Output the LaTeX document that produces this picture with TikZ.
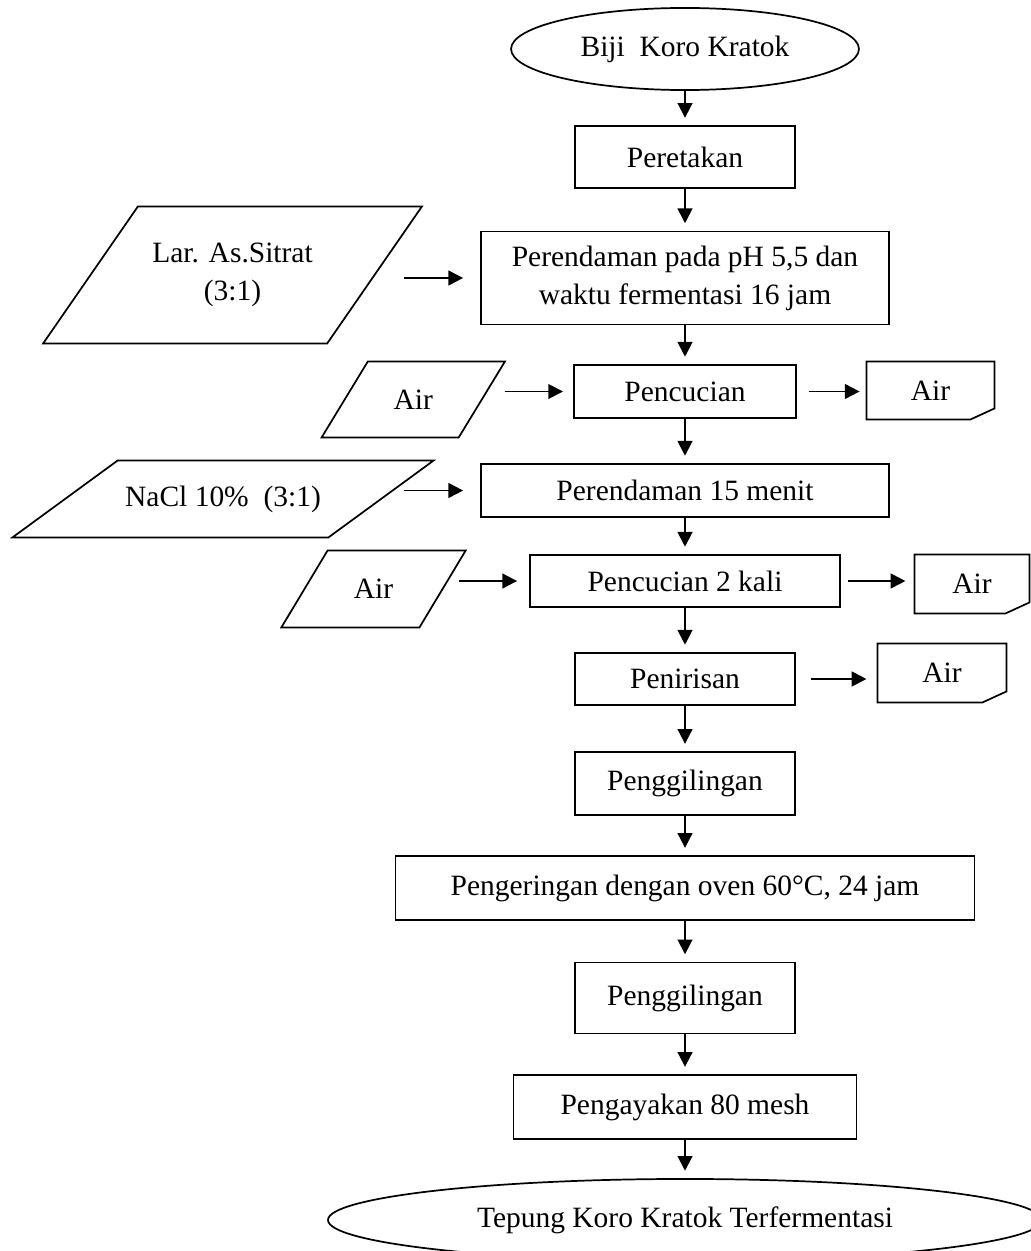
\documentclass[tikz,border=0pt,12pt]{standalone}
\usepackage{fontspec}
\setmainfont{Liberation Serif}
\usetikzlibrary{shapes.geometric,arrows.meta}
\tikzset{
  garis/.style={line width=.7pt},
  proses/.style={draw,garis,rectangle,inner sep=0pt,align=center},
  ujung/.style={draw,garis,ellipse,inner sep=0pt},
  bahan/.style={inner sep=0pt,align=center},
  limbah/.style={inner sep=0pt},
  uk/.style 2 args={minimum width=#1pt,minimum height=#2pt},
  panah/.style={line width=.8pt,-{Triangle[length=6pt,width=6pt]}}
}
% jajar genjang di sekeliling node (nama, setengah kemiringan)
\newcommand{\miring}[2]{\draw[garis] ([xshift=#2]#1.north west) -- ([xshift=#2]#1.north east)
  -- ([xshift=-#2]#1.south east) -- ([xshift=-#2]#1.south west) -- cycle;}
% kotak dengan sudut kanan bawah terpotong
\newcommand{\potong}[1]{\draw[garis] (#1.north west) -- (#1.north east) -- ([yshift=4.5pt]#1.south east)
  -- ([xshift=-9.8pt]#1.south east) -- (#1.south west) -- cycle;}
\begin{document}
\begin{tikzpicture}[x=.407pt,y=-.407pt]
\useasboundingbox (0,0) rectangle (1030,1251);
%alur utama
\node[ujung,uk={141.6}{33.4}] (biji) at (685,49) {Biji\ \ Koro Kratok};
\node[proses,uk={89.5}{25.2}] (retak) at (685,157) {Peretakan};
\node[proses,uk={166.1}{37.9}] (rendam1) at (685,278) {Perendaman pada pH 5,5 dan\\[1pt]waktu fermentasi 16 jam};
\node[proses,uk={90.4}{21.6}] (cuci1) at (685,391.5) {Pencucian};
\node[proses,uk={166.1}{21.6}] (rendam2) at (685,490.5) {Perendaman 15 menit};
\node[proses,uk={126.2}{21.2}] (cuci2) at (685,581) {Pencucian 2 kali};
\node[proses,uk={89.5}{21.2}] (tiris) at (685,679) {Penirisan};
\node[proses,uk={89.5}{25.6}] (giling1) at (685,783.5) {Penggilingan};
\node[proses,uk={235.7}{26}] (kering) at (685,888) {Pengeringan dengan oven 60°C, 24 jam};
\node[proses,uk={89.5}{28.9}] (giling2) at (685,998) {Penggilingan};
\node[proses,uk={139.6}{26}] (ayak) at (685,1107) {Pengayakan 80 mesh};
\node[ujung,uk={290.6}{33.4}] (tepung) at (685,1220) {Tepung Koro Kratok Terfermentasi};
%bahan masuk
\node[bahan,uk={115.2}{55.4}] (sitrat) at (232.5,275) {Lar. As.Sitrat\\[1pt](3:1)};
\node[bahan,uk={55.4}{30.5}] (airA) at (413.25,399.5) {Air};
\node[bahan,uk={128.2}{30.9}] (nacl) at (223,499) {NaCl 10\%\ \ (3:1)};
\node[bahan,uk={55.8}{30.9}] (airB) at (373.5,589) {Air};
\miring{sitrat}{19.3pt}
\miring{airA}{9.4pt}
\miring{nacl}{21.4pt}
\miring{airB}{9.4pt}
%air buangan
\node[limbah,uk={51.7}{23.2}] (buangA) at (930.5,390.5) {Air};
\node[limbah,uk={46.4}{23.6}] (buangB) at (972,584) {Air};
\node[limbah,uk={52.1}{23.6}] (buangC) at (942,673) {Air};
\potong{buangA}
\potong{buangB}
\potong{buangC}
%panah
\foreach \a/\b in {biji/retak,retak/rendam1,rendam1/cuci1,cuci1/rendam2,rendam2/cuci2,cuci2/tiris,
  tiris/giling1,giling1/kering,kering/giling2,giling2/ayak,ayak/tepung}
  \draw[panah,shorten >=3pt] (\a) -- (\b);
\draw[panah,shorten <=11.8pt,shorten >=6.9pt] (sitrat.east |- rendam1) -- (rendam1);
\draw[panah,shorten <=9.3pt,shorten >=4.1pt] (airA.east |- cuci1) -- (cuci1);
\draw[panah,shorten <=9.2pt,shorten >=6.9pt] (nacl.east |- rendam2) -- (rendam2);
\draw[panah,shorten <=6.5pt,shorten >=4.9pt] (airB.east |- cuci2) -- (cuci2);
\draw[panah,shorten <=4.9pt,shorten >=2.8pt] (cuci1) -- (cuci1 -| buangA.west);
\draw[panah,shorten <=2.8pt,shorten >=3.7pt] (cuci2) -- (cuci2 -| buangB.west);
\draw[panah,shorten <=6.1pt,shorten >=4.5pt] (tiris) -- (tiris -| buangC.west);
\end{tikzpicture}
\end{document}
